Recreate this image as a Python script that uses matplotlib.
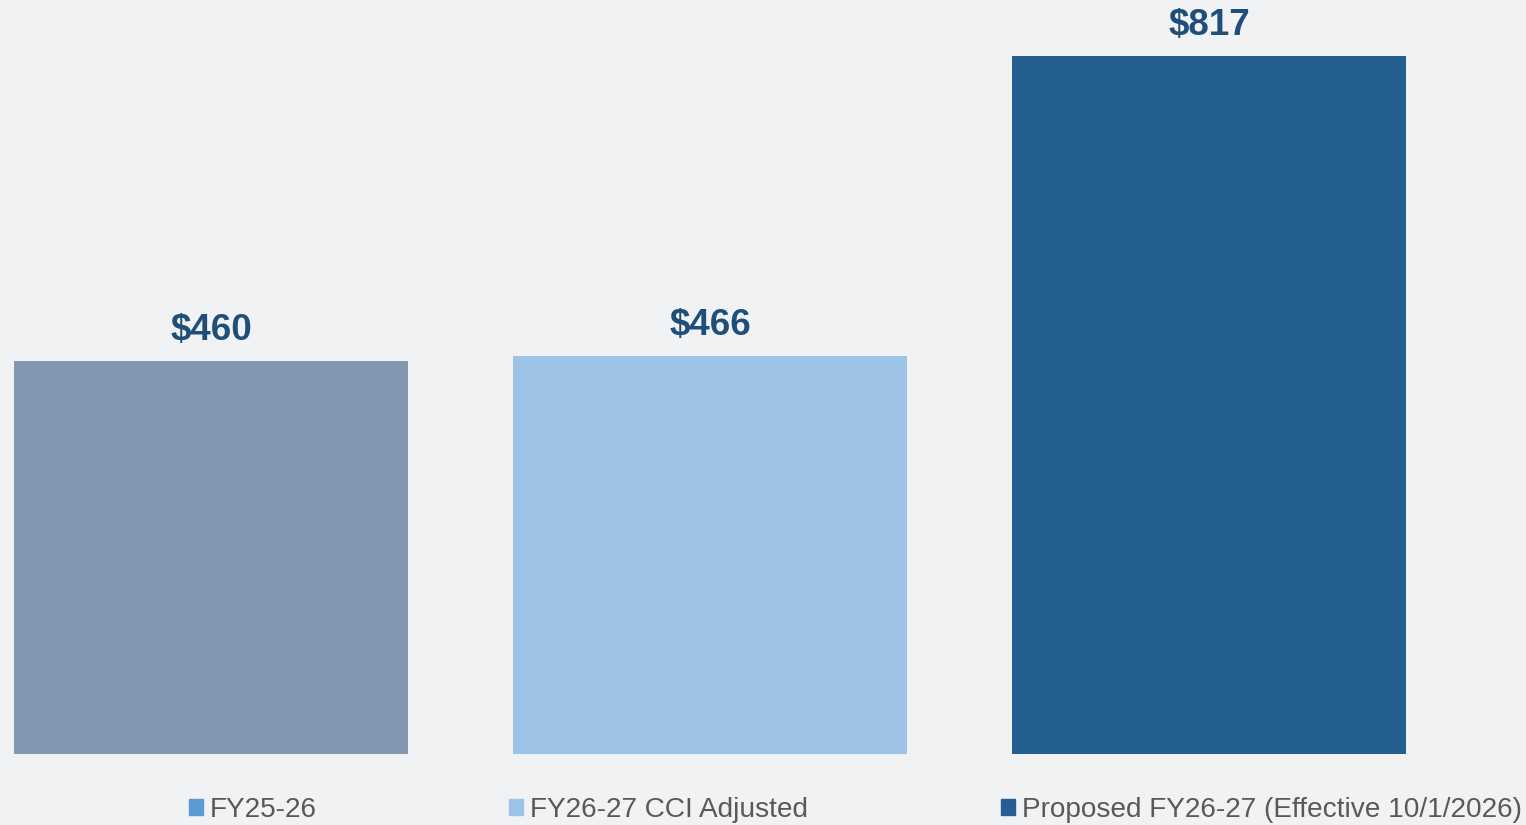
import matplotlib.pyplot as plt
from matplotlib.patches import Patch

plt.rcParams['font.family'] = ['Liberation Sans', 'DejaVu Sans']

categories = ['FY25-26', 'FY26-27 CCI Adjusted', 'Proposed FY26-27 (Effective 10/1/2026)']
values = [460, 466, 817]
labels = ['$460', '$466', '$817']
bar_colors = ['#8497B0', '#9DC3E6', '#255E91']
legend_colors = ['#5B9BD5', '#9DC3E6', '#255E91']

bg = '#F1F2F4'
fig = plt.figure(figsize=(15.26, 8.25), dpi=100, facecolor=bg)
ax = fig.add_axes([0, 0.0861, 1, 0.9139])
ax.set_facecolor(bg)

x = range(len(values))
ax.bar(x, values, width=0.79, color=bar_colors)
for i, v in enumerate(values):
    ax.annotate(labels[i], (i, v), xytext=(0, 9.5), textcoords='offset points',
                ha='center', va='bottom', fontsize=26.5, fontweight='bold', color='#1F4E79')

ax.set_xlim(-0.4228, 2.6353)
ax.set_ylim(0, 883)
ax.axis('off')

handles = [Patch(color=c) for c in legend_colors]
fig.legend(handles, categories, loc='center', bbox_to_anchor=(0.5605, 0.018), ncol=3,
           frameon=False, fontsize=20.2, labelcolor='#595959', handlelength=0.5, handleheight=0.5,
           handletextpad=0.25, columnspacing=6.85, borderpad=0, borderaxespad=0)

fig.savefig('out.png', dpi=100, facecolor=bg)
